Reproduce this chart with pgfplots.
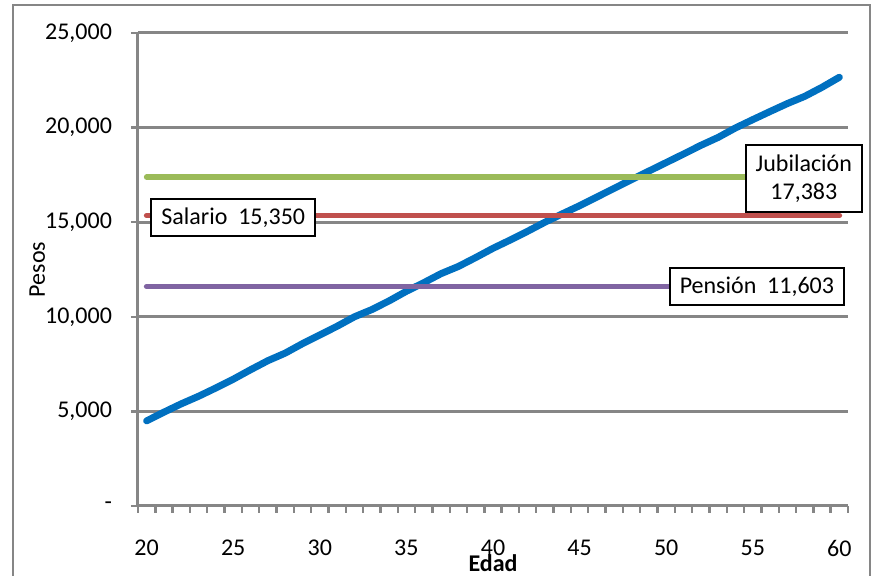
\documentclass[border=0pt]{standalone}
\usepackage{pgfplots}
\pgfplotsset{compat=1.18}
\usepackage{fontspec}
\setmainfont{Carlito}
\definecolor{gridgray}{HTML}{868686}
\definecolor{xlblue}{HTML}{0070C0}
\definecolor{xlgreen}{HTML}{9BBB59}
\definecolor{xlred}{HTML}{C0504D}
\definecolor{xlpurple}{HTML}{8064A2}
\pgfplotstableread{
edad salario
20 4500
21 4960
22 5400
23 5800
24 6240
25 6700
26 7200
27 7680
28 8080
29 8580
30 9040
31 9500
32 10000
33 10380
34 10840
35 11350
36 11800
37 12280
38 12660
39 13130
40 13620
41 14060
42 14520
43 15000
44 15440
45 15870
46 16330
47 16790
48 17250
49 17700
50 18150
51 18600
52 19060
53 19480
54 19980
55 20420
56 20850
57 21270
58 21650
59 22130
60 22660
}\salario
\begin{document}
\begin{tikzpicture}[x=1pt,y=1pt]
\useasboundingbox (0,0) rectangle (439.5,288);
\draw[gridgray, line width=1pt] (6.5,0) -- (6.5,285.5) -- (435,285.5) -- (435,0);
\begin{axis}[
  scale only axis, width=355pt, height=236.5pt,
  at={(69pt,35pt)}, anchor=south west,
  xmin=19.5, xmax=60.5, ymin=0, ymax=25000,
  axis x line*=bottom, axis y line*=left,
  axis line style={gridgray, line width=1.5pt, -},
  xtick={20,25,...,60},
  minor xtick={19.5,20.5,21.5,22.5,23.5,24.5,25.5,26.5,27.5,28.5,29.5,30.5,31.5,32.5,33.5,34.5,35.5,36.5,37.5,38.5,39.5,40.5,41.5,42.5,43.5,44.5,45.5,46.5,47.5,48.5,49.5,50.5,51.5,52.5,53.5,54.5,55.5,56.5,57.5,58.5,59.5,60.5},
  tick align=outside,
  major tick length=3.5pt, minor tick length=3.5pt,
  every major x tick/.append style={draw=none},
  tick style={gridgray, line width=1.2pt},
  ytick={0,5000,10000,15000,20000,25000},
  yticklabels={-,5{,}000,10{,}000,15{,}000,20{,}000,25{,}000},
  scaled y ticks=false, scaled x ticks=false,
  ymajorgrids, major grid style={gridgray, line width=1.5pt},
  /pgf/number format/assume math mode=true,
  font=\fontsize{12}{14}\selectfont,
  x tick label style={yshift=-10pt},
  y tick label style={xshift=-6pt},
  xlabel={Edad},
  xlabel style={at={(axis description cs:0.5,-0.12)}, anchor=center, font=\fontsize{12}{14}\selectfont\bfseries},
  ylabel={Pesos},
  ylabel style={at={(axis description cs:-0.142,0.5)}, anchor=center},
  clip=false,
]
\addplot[xlblue, line width=3.5pt, line cap=round, line join=round] table[x=edad, y=salario] {\salario};
\addplot[xlgreen, line width=2.8pt, line cap=round] coordinates {(20,17383) (60,17383)};
\addplot[xlred, line width=2.8pt, line cap=round] coordinates {(20,15350) (60,15350)};
\addplot[xlpurple, line width=2.8pt, line cap=round] coordinates {(20,11603) (60,11603)};
\node[draw=black, line width=1pt, fill=white, inner xsep=5pt, minimum height=18.5pt] at (axis cs:25,15250) {Salario\ \ 15,350};
\node[draw=black, line width=1pt, fill=white, inner xsep=5pt, minimum height=33.5pt, align=center] at (axis cs:57.95,17310) {Jubilación\\17,383};
\node[draw=black, line width=1pt, fill=white, inner xsep=5pt, minimum height=18.5pt] at (axis cs:55.24,11575) {Pensión\ \ 11,603};
\end{axis}
\end{tikzpicture}
\end{document}
